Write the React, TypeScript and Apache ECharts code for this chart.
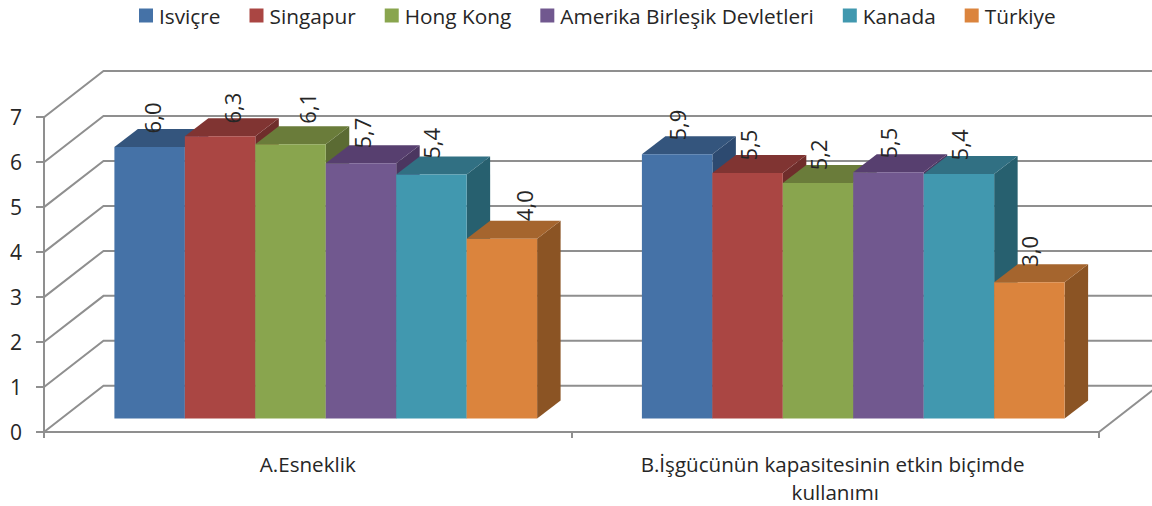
import React, { useEffect, useRef } from "react";
import * as echarts from "echarts";

const categories = ["A.Esneklik", "B.İşgücünün kapasitesinin etkin biçimde kullanımı"];
const seriesNames = ["Isviçre", "Singapur", "Hong Kong", "Amerika Birleşik Devletleri", "Kanada", "Türkiye"];
const isvicre = [6.04, 5.88];
const singapur = [6.28, 5.46];
const hongKong = [6.1, 5.24];
const abd = [5.68, 5.48];
const kanada = [5.43, 5.44];
const turkiye = [4.0, 3.03];
const seriesValues = [isvicre, singapur, hongKong, abd, kanada, turkiye];
const yTicks = [0, 1, 2, 3, 4, 5, 6, 7];

// appearance
const FRONT = ["#4572a7", "#aa4643", "#89a54e", "#71588f", "#4198af", "#db843d"];
const TOP = ["#34557d", "#803432", "#6a7c3a", "#573f6f", "#317083", "#a5652e"];
const SIDE = ["#2d4a70", "#6f2d2b", "#5b6b33", "#4b3660", "#27606f", "#8b5424"];
const TEXT = "#262626";
const WALL = "#8f8f8f";
const FONT = "'Open Sans', sans-serif";
const WALL_DX = 59.5;
const WALL_DY = -46.2;
const BAR_DX = 18;
const BAR_DY = -13.4;
const DEPTH_DX = 23.5;
const DEPTH_DY = -18;
const BAR_RATIO = 70.45 / 527.5;
// hand-placed label nudges [series][category]
const LABEL_NX = [[2, 0], [12, 0], [16, 0], [1, 0], [0, 0], [22, 0]];
const LABEL_NY = [[0, 0], [1, 1], [-7, 1], [-1, 0], [-2, 0], [-4, -2]];

function wallItem(params: any, api: any) {
  const v = api.value(1);
  const cs = params.coordSys;
  const y = api.coord([0, v])[1];
  const style = { stroke: WALL, lineWidth: 2, fill: null };
  const x0 = cs.x;
  const x1 = cs.x + cs.width;
  const children: any[] = [
    {
      type: "polyline",
      shape: { points: [[x0, y], [x0 + WALL_DX, y + WALL_DY], [x1 + WALL_DX, y + WALL_DY]] },
      style,
    },
  ];
  if (v === 0) {
    children.push({
      type: "line",
      shape: { x1, y1: y, x2: x1 + WALL_DX, y2: y + WALL_DY },
      style,
    });
  }
  return { type: "group", children };
}

function barItem(si: number) {
  return (_params: any, api: any) => {
    const c = api.value(0);
    const v = api.value(1);
    const band = api.size([1, 0])[0];
    const w = band * BAR_RATIO;
    const top = api.coord([c, v]);
    const base = api.coord([c, 0]);
    const cx = top[0] + BAR_DX + (si - 2.5) * w;
    const l = cx - w / 2;
    const r = cx + w / 2;
    const yt = top[1] + BAR_DY;
    const yb = base[1] + BAR_DY;
    const text = v.toFixed(1).replace(".", ",");
    return {
      type: "group",
      children: [
        {
          type: "polygon",
          shape: { points: [[r, yt], [r + DEPTH_DX, yt + DEPTH_DY], [r + DEPTH_DX, yb + DEPTH_DY], [r, yb]] },
          style: { fill: SIDE[si] },
        },
        {
          type: "polygon",
          shape: { points: [[l, yt], [l + DEPTH_DX, yt + DEPTH_DY], [r + DEPTH_DX, yt + DEPTH_DY], [r, yt]] },
          style: { fill: TOP[si] },
        },
        {
          type: "rect",
          shape: { x: l, y: yt, width: w, height: yb - yt },
          style: { fill: FRONT[si] },
        },
        {
          type: "text",
          x: cx + LABEL_NX[si][c],
          y: yt - 29 + LABEL_NY[si][c],
          rotation: Math.PI / 2,
          z2: 100,
          style: {
            text,
            fill: TEXT,
            font: `22px ${FONT}`,
            align: "center",
            verticalAlign: "middle",
          },
        },
      ],
    };
  };
}

export default function App() {
  const ref = useRef<HTMLDivElement>(null);
  useEffect(() => {
    const chart = echarts.init(ref.current!, undefined, { renderer: "svg" });
    chart.setOption({
      animation: false,
      backgroundColor: "#fff",
      textStyle: { fontFamily: FONT },
      legend: {
        top: 5,
        left: 139,
        padding: 0,
        itemWidth: 14,
        itemHeight: 14,
        itemGap: 29,
        icon: "rect",
        data: seriesNames,
        textStyle: { fontSize: 20.8, color: TEXT, fontFamily: FONT, padding: [0, 0, 0, 1] },
      },
      grid: { left: 44, right: 53, top: 117.2, bottom: 72.9, containLabel: false },
      xAxis: {
        type: "category",
        data: categories,
        axisLine: { show: true, lineStyle: { color: WALL, width: 2 } },
        axisTick: { show: true, alignWithLabel: false, length: 6, lineStyle: { color: WALL, width: 2 } },
        axisLabel: {
          color: TEXT,
          fontSize: 20.6,
          fontFamily: FONT,
          margin: 18,
          lineHeight: 28,
          width: 500,
          overflow: "break",
          interval: 0,
        },
      },
      yAxis: {
        type: "value",
        min: 0,
        max: 7,
        interval: 1,
        splitLine: { show: false },
        axisLine: { show: true, lineStyle: { color: WALL, width: 2 } },
        axisTick: { show: true, length: 8, lineStyle: { color: WALL, width: 2 } },
        axisLabel: { color: TEXT, fontSize: 21, fontFamily: FONT, margin: 22 },
      },
      series: [
        {
          type: "custom",
          name: "wall",
          silent: true,
          renderItem: wallItem,
          data: yTicks.map((v) => [0, v]),
          encode: { x: 0, y: 1 },
          z: 1,
        },
        ...seriesNames.map((name, si) => ({
          type: "custom",
          name,
          renderItem: barItem(si),
          itemStyle: { color: FRONT[si] },
          data: seriesValues[si].map((v, c) => [c, v]),
          encode: { x: 0, y: 1 },
          z: 2 + si,
        })),
      ],
    });
    return () => chart.dispose();
  }, []);
  return <div ref={ref} style={{ position: "fixed", left: 0, top: 0, width: 1152, height: 506 }} />;
}
